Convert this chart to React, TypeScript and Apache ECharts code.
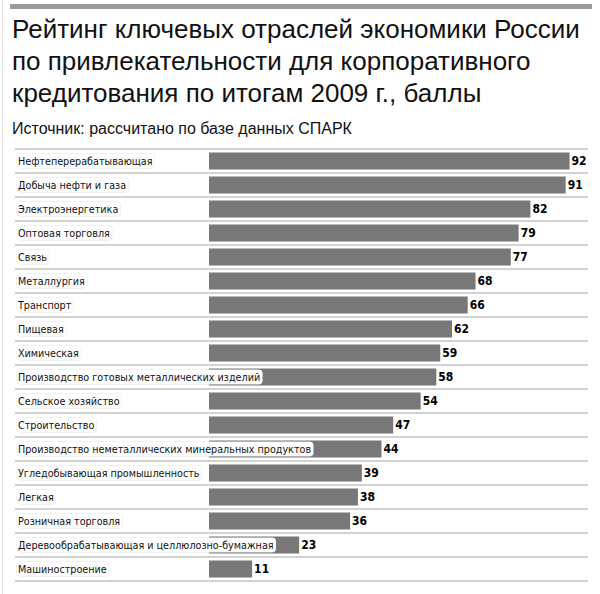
import React, { useEffect, useRef } from "react";
import * as echarts from "echarts";

const categories = [
  "Нефтеперерабатывающая",
  "Добыча нефти и газа",
  "Электроэнергетика",
  "Оптовая торговля",
  "Связь",
  "Металлургия",
  "Транспорт",
  "Пищевая",
  "Химическая",
  "Производство готовых металлических изделий",
  "Сельское хозяйство",
  "Строительство",
  "Производство неметаллических минеральных продуктов",
  "Угледобывающая промышленность",
  "Легкая",
  "Розничная торговля",
  "Деревообрабатывающая и целлюлозно-бумажная",
  "Машиностроение",
];
const scores = [92, 91, 82, 79, 77, 68, 66, 62, 59, 58, 54, 47, 44, 39, 38, 36, 23, 11];

const titleText = "Рейтинг ключевых отраслей экономики России\nпо привлекательности для корпоративного\nкредитования по итогам 2009 г., баллы";
const sourceText = "Источник: рассчитано по базе данных СПАРК";

export default function App() {
  const ref = useRef<HTMLDivElement>(null);
  useEffect(() => {
    if (!ref.current) return;
    const chart = echarts.init(ref.current, null, { renderer: "svg" });
    chart.setOption({
      animation: false,
      backgroundColor: "#fff",
      title: [
        {
          text: titleText,
          left: 12,
          top: 13,
          padding: 0,
          textStyle: {
            fontFamily: "Liberation Sans",
            fontSize: 26,
            fontWeight: "normal",
            lineHeight: 32,
            color: "#111",
          },
        },
        {
          text: sourceText,
          left: 12,
          top: 120,
          padding: 0,
          textStyle: {
            fontFamily: "Liberation Sans",
            fontSize: 16,
            fontWeight: "normal",
            color: "#111",
          },
        },
      ],
      graphic: [
        {
          type: "rect",
          shape: { x: 10, y: 4, width: 582, height: 5 },
          style: { fill: "#9a9a9a" },
        },
        {
          type: "line",
          shape: { x1: 2.5, y1: 0, x2: 2.5, y2: 594 },
          style: { stroke: "#e6e6e6", lineWidth: 1 },
        },
      ],
      grid: { left: 15, right: 12, top: 149, height: 432 },
      xAxis: {
        type: "value",
        min: -49.5,
        max: 96.7,
        show: false,
      },
      yAxis: {
        type: "category",
        data: categories,
        inverse: true,
        z: 5,
        axisLine: { show: false },
        axisTick: { show: false },
        splitLine: { show: true, lineStyle: { color: "#d2d2d2", width: 2 } },
        axisLabel: {
          inside: true,
          align: "left",
          margin: 2,
          fontFamily: "DejaVu Sans Condensed",
          fontSize: 10.7,
          color: "#111",
          backgroundColor: "#fff",
          borderColor: "#e4e4e4",
          borderWidth: 0.5,
          borderRadius: 3,
          padding: [2, 2, 1, 1],
        },
      },
      series: [
        {
          type: "bar",
          data: scores,
          barWidth: 17,
          itemStyle: { color: "#787878" },
          label: {
            show: true,
            position: "right",
            distance: 2,
            fontFamily: "DejaVu Sans Condensed",
            fontWeight: "bold",
            fontSize: 12,
            color: "#000",
          },
        },
      ],
    });
    return () => chart.dispose();
  }, []);
  return <div ref={ref} style={{ width: 600, height: 594, position: "absolute", left: 0, top: 0 }} />;
}
